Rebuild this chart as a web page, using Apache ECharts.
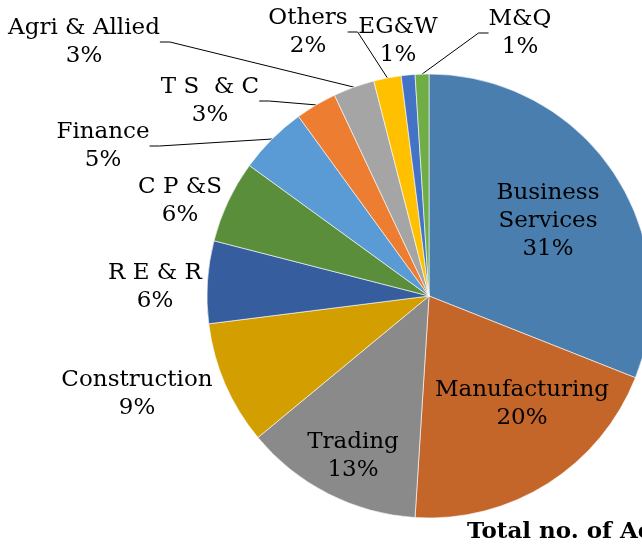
<!DOCTYPE html>
<html>
<head>
<meta charset="utf-8">
<script src="https://cdn.jsdelivr.net/npm/echarts@6/dist/echarts.min.js"></script>
<style>
  html, body { margin: 0; padding: 0; background: #fff; }
  #chart { width: 642px; height: 551px; }
</style>
</head>
<body>
<div id="chart"></div>
<script>
  // sectors, clockwise from 12 o'clock
  var sectors = ['Business Services', 'Manufacturing', 'Trading', 'Construction', 'R E & R', 'C P &S',
    'Finance', 'T S  & C', 'Agri & Allied', 'Others', 'EG&W', 'M&Q'];
  var shares = [31, 20, 13, 9, 6, 6, 5, 3, 3, 2, 1, 1];
  var colors = ['#4A7EAF', '#C4652A', '#8A8A8A', '#D29E00', '#365E9F', '#5A8E3A',
    '#5B9BD5', '#ED7D31', '#A5A5A5', '#FFC000', '#4472C4', '#70AD47'];

  // where excel put the labels (text block centre), by sector index
  var labelPos = [[548, 221], [522, 404], [353, 456], [137, 394], [155, 287], [180, 201],
    [103, 146], [210, 101], [84, 42], [308, 32], [398, 41], [520, 33]];
  var withLine = [false, false, false, false, false, false, true, true, true, true, false, true];
  var inside = [true, true, true, false, false, false, false, false, false, false, false, false];

  var chart = echarts.init(document.getElementById('chart'));

  var data = sectors.map(function (name, i) {
    return {
      name: name,
      value: shares[i],
      itemStyle: { color: colors[i] },
      label: { position: inside[i] ? 'inside' : 'outside' },
      labelLine: { show: withLine[i] }
    };
  });

  var option = {
    animation: false,
    graphic: [{
      type: 'text',
      left: 467,
      top: 521,
      style: {
        text: 'Total no. of Accounts',
        font: 'bold 23px "DejaVu Serif"',
        fill: '#000'
      }
    }],
    series: [{
      type: 'pie',
      center: [429, 296],
      radius: 222,
      startAngle: 90,
      clockwise: true,
      data: data,
      itemStyle: { borderColor: '#fff', borderWidth: 0.6 },
      label: {
        show: true,
        fontFamily: 'DejaVu Serif',
        fontSize: 23,
        lineHeight: 28,
        color: '#000',
        align: 'center',
        overflow: 'none',
        formatter: function (p) {
          var n = p.dataIndex === 0 ? p.name.replace(' ', '\n') : p.name;
          return n + '\n' + p.value + '%';
        }
      },
      labelLine: {
        show: true,
        length: 10,
        length2: 10,
        lineStyle: { color: '#000', width: 1 }
      },
      labelLayout: function (params) {
        var pos = labelPos[params.dataIndex];
        return {
          x: pos[0],
          y: pos[1],
          align: 'center',
          verticalAlign: 'middle',
          moveOverlap: false,
          hideOverlap: false
        };
      }
    }]
  };

  chart.setOption(option);
</script>
</body>
</html>
